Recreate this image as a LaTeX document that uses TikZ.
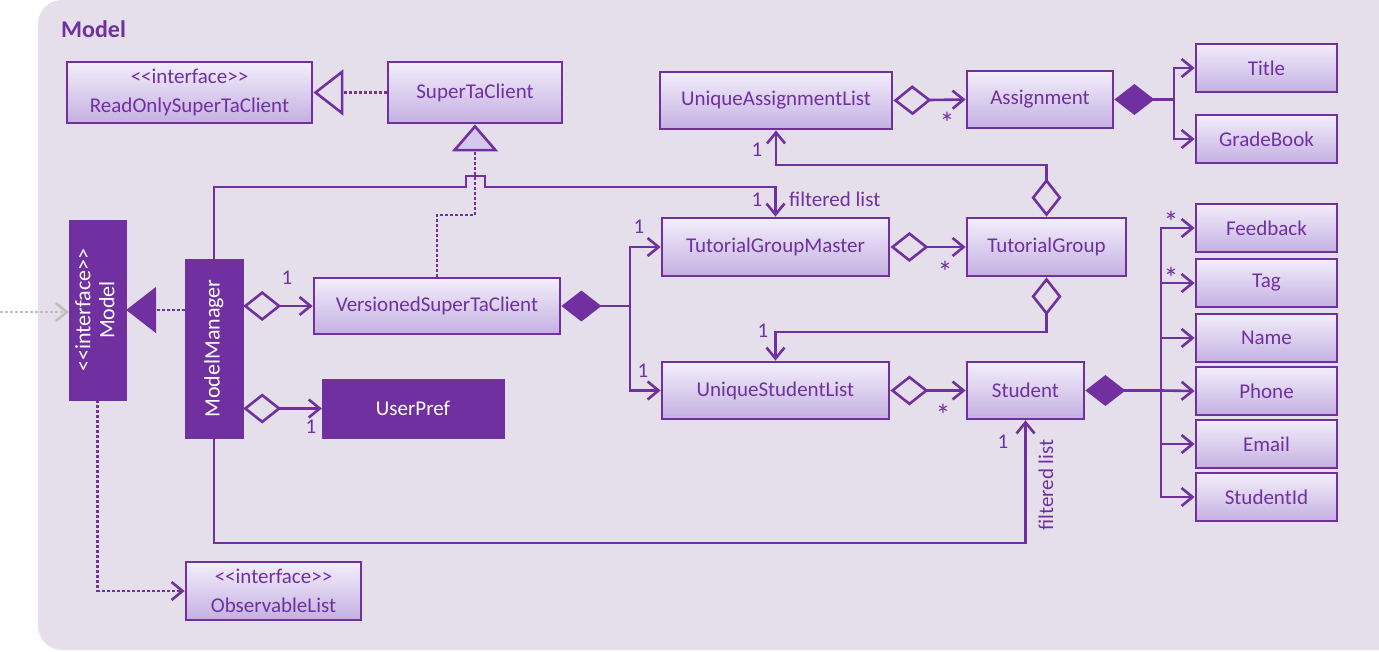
\documentclass[tikz,border=0pt]{standalone}
\usepackage{fontspec}
\setmainfont{Carlito}
\usepackage{graphicx}
\usetikzlibrary{arrows.meta}
\definecolor{umlpurple}{HTML}{7030A0}
\definecolor{modelbg}{HTML}{E5DFEC}
\definecolor{boxtop}{HTML}{F2EEFB}
\definecolor{boxbot}{HTML}{C5B0E2}
\definecolor{tripurple}{HTML}{D6C7EC}
\definecolor{outergray}{HTML}{BFBFBF}
\newcommand{\stereo}[1]{<\kern0pt<#1>\kern0pt>}
\tikzset{
  cls/.style={draw=umlpurple, line width=2.8pt, top color=boxtop, bottom color=boxbot, text=umlpurple,
    font=\fontsize{21}{29}\selectfont, align=center, inner sep=0pt},
  solidcls/.style={draw=umlpurple, fill=umlpurple, text=white, font=\fontsize{22}{24}\selectfont,
    align=center, inner sep=0pt},
  attr/.style={cls, minimum width=141pt, minimum height=48pt},
  conn/.style={draw=umlpurple, line width=2.6pt},
  realize/.style={conn, dash pattern=on 3pt off 2pt},
  openbarb/.tip={Straight Barb[length=11pt,width=18pt]},
  aggr/.style={conn, {Diamond[open,length=38pt,width=30pt]}-{openbarb}},
  comp/.style={conn, {Diamond[length=40pt,width=31pt]}-{openbarb}},
  lbl/.style={text=umlpurple, font=\fontsize{21}{23}\selectfont, inner sep=0pt},
  star/.style={text=umlpurple, font=\fontsize{30}{30}\selectfont, inner sep=0pt}
}
\begin{document}
\begin{tikzpicture}[x=1pt,y=-1pt]
\useasboundingbox (0,0) rectangle (1379,651);
\begin{scope}
\clip (0,0) rectangle (1379,651);
\fill[modelbg, rounded corners=24pt] (38,0) rectangle (1420,650);
\end{scope}
\node[text=umlpurple, font=\fontsize{24}{28}\selectfont\bfseries, anchor=west, inner sep=0pt] (pkgname) at (61,29) {Model};

\node[cls, minimum width=245pt, minimum height=61pt] (readonly) at (189.5,92.5) {\stereo{interface}\\ReadOnlySuperTaClient};
\node[cls, minimum width=174pt, minimum height=61pt] (stc) at (475,92.5) {SuperTaClient};
\node[solidcls, minimum width=57pt, minimum height=180pt] (model) at (97.5,310) {\rotatebox{90}{\begin{tabular}{@{}c@{}}\stereo{interface}\\Model\end{tabular}}};
\node[solidcls, minimum width=58pt, minimum height=179pt] (mm) at (214,348.5) {\rotatebox{90}{ModelManager}};
\node[cls, minimum width=246pt, minimum height=56pt] (vstc) at (437,306) {VersionedSuperTaClient};
\node[solidcls, minimum width=182pt, minimum height=59pt, font=\fontsize{21}{23}\selectfont] (userpref) at (413,408.5) {UserPref};
\node[cls, minimum width=175pt, minimum height=58pt] (obslist) at (273.5,591) {\stereo{interface}\\ObservableList};

\node[cls, minimum width=232pt, minimum height=57pt] (ual) at (776,100.5) {UniqueAssignmentList};
\node[cls, minimum width=146pt, minimum height=57pt] (assign) at (1040,99.5) {Assignment};
\node[attr] (title) at (1266.5,68) {Title};
\node[attr] (gradebook) at (1266.5,139) {GradeBook};
\node[cls, minimum width=227pt, minimum height=58pt] (tgm) at (775.5,247) {TutorialGroupMaster};
\node[cls, minimum width=159pt, minimum height=58pt] (tgroup) at (1046.5,247) {TutorialGroup};
\node[cls, minimum width=227pt, minimum height=57pt] (usl) at (775.5,390.5) {UniqueStudentList};
\node[cls, minimum width=117pt, minimum height=57pt] (student) at (1025.5,390.5) {Student};
\node[attr] (feedback) at (1266.5,228) {Feedback};
\node[attr] (tag) at (1266.5,283) {Tag};
\node[attr] (name) at (1266.5,338) {Name};
\node[attr] (phone) at (1266.5,391) {Phone};
\node[attr] (email) at (1266.5,444) {Email};
\node[attr] (studentid) at (1266.5,497) {StudentId};

\draw[realize, -{Triangle[open,length=30pt,width=46pt,fill=modelbg]}] (stc.west) -- (readonly.east);
\draw[realize, -{Triangle[open,length=27pt,width=46pt,fill=tripurple]}] (vstc.north) -- (vstc.north |- 0,215) -- (stc.south |- 0,215) -- (stc.south);
\draw[realize, -{Triangle[length=30pt,width=46pt]}] (mm.west |- model.east) -- (model.east);
\coordinate (outside) at (0,312);
\draw[conn, outergray, dash pattern=on 3pt off 2pt, -{openbarb}] (outside) -- (outside -| model.west);
\draw[realize, -{openbarb}] (model.south) |- (obslist.west);

\draw[aggr] (mm.east |- vstc.west) -- (vstc.west);
\draw[aggr] (mm.east |- userpref.west) -- (userpref.west);
\draw[conn, -{openbarb}] (mm.north) -- (mm.north |- 0,187) -- (466,187) -- (466,176) -- (485,176) -- (485,187) -- (tgm.north |- 0,187) -- (tgm.north);
\draw[conn, -{openbarb}] (mm.south) -- (mm.south |- 0,543) -| (student.south);

\coordinate (vsplit) at (630,306);
\draw[comp] (vstc.east) -- (vsplit) |- (tgm.west);
\draw[conn, -{openbarb}] (vsplit) |- (usl.west);

\draw[aggr] (ual.east) -- (assign.west);
\draw[aggr] (tgm.east) -- (tgroup.west);
\draw[aggr] (usl.east) -- (student.west);
\draw[aggr] (tgroup.north) -- (tgroup.north |- 0,165) -| (ual.south);
\draw[aggr] (tgroup.south) -- (tgroup.south |- 0,332) -| (usl.north);

\coordinate (asplit) at (1174,99.5);
\draw[comp] (assign.east) -- (asplit) |- (title.west);
\draw[conn, -{openbarb}] (asplit) |- (gradebook.west);

\coordinate (ssplit) at (1161,390.5);
\draw[comp] (student.east) -- (ssplit) -- (phone.west);
\draw[conn, -{openbarb}] (ssplit) |- (feedback.west);
\draw[conn, -{openbarb}] (ssplit) |- (tag.west);
\draw[conn, -{openbarb}] (ssplit) |- (name.west);
\draw[conn, -{openbarb}] (ssplit) |- (email.west);
\draw[conn, -{openbarb}] (ssplit) |- (studentid.west);

\node[lbl] (m1) at (287,278) {1};
\node[lbl] (m2) at (311,427) {1};
\node[lbl] (v1) at (639,227) {1};
\node[lbl] (v2) at (643,371) {1};
\node[lbl] (a1) at (757,150) {1};
\node[lbl] (f1) at (757,200) {1};
\node[lbl, anchor=west] (flist) at (789,199) {filtered list};
\node[lbl] (t1) at (763,331) {1};
\node[star] (s1) at (947,123) {*};
\node[star] (s2) at (945,272) {*};
\node[star] (s3) at (943,415) {*};
\node[star] (s4) at (1171,222) {*};
\node[star] (s5) at (1171,278) {*};
\node[lbl] (st1) at (1003,442) {1};
\node[lbl, rotate=90] (flist2) at (1046,485) {filtered list};
\end{tikzpicture}
\end{document}
